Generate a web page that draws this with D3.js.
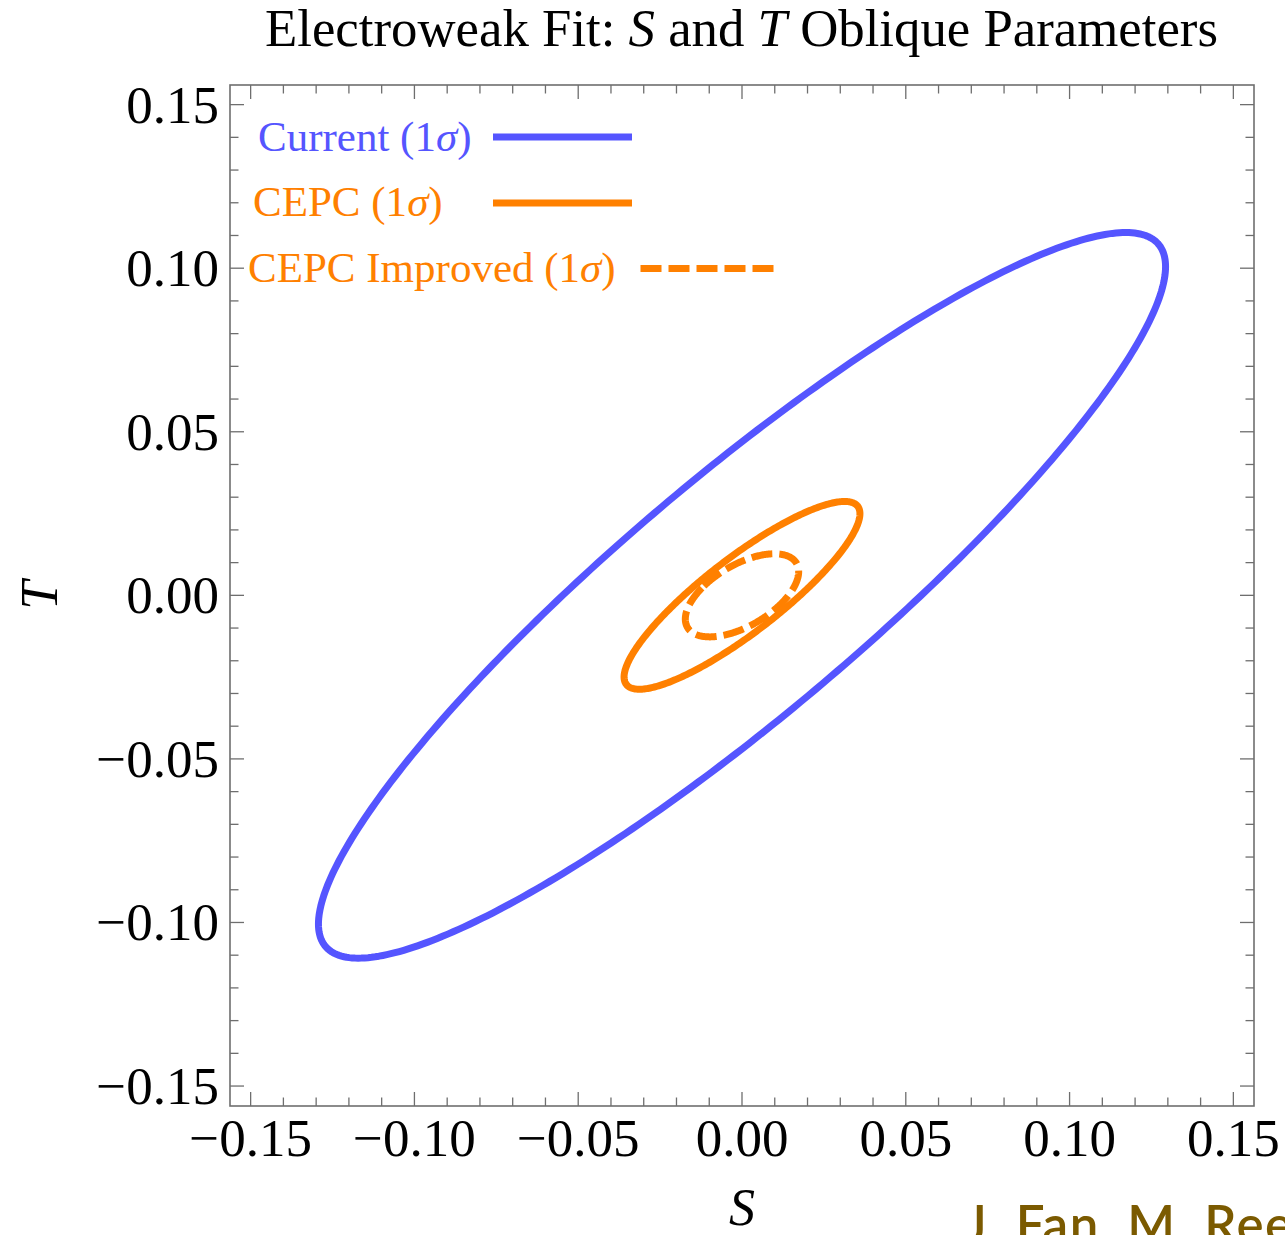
<!DOCTYPE html>
<html>
<head>
<meta charset="utf-8">
<script src="https://cdn.jsdelivr.net/npm/d3@7"></script>
<style>
  html, body { margin: 0; padding: 0; background: #ffffff; overflow: hidden; }
  svg { display: block; }
  .serif { font-family: "Liberation Serif", "Times New Roman", serif; }
  .credit { font-family: Lato, "Open Sans", sans-serif; }
</style>
</head>
<body>
<script>
// 1σ contours in the (S, T) plane: fit centre, half-widths and S–T correlation
const contourNames = ["Current (1σ)", "CEPC (1σ)", "CEPC Improved (1σ)"];
const centerS = [0.0, 0.0, 0.0];
const centerT = [0.0, 0.0, 0.0];
const sigmaS  = [0.1293, 0.0360, 0.0173];
const sigmaT  = [0.1109, 0.0287, 0.0127];
const corrST  = [0.906, 0.870, 0.570];
const contourColors = ["#5555ff", "#ff8000", "#ff8000"];
const contourDash   = [null, null, "21,7"];

// axis ticks
const majorTicks = [-0.15, -0.10, -0.05, 0.00, 0.05, 0.10, 0.15];
const minorTicks = d3.range(-15, 16).map(i => i / 100);

const W = 1285, H = 1235;
const frame = { left: 230, right: 1254, top: 85, bottom: 1106 };

const svg = d3.select("body").append("svg")
  .attr("width", W).attr("height", H);

const x = d3.scaleLinear().domain([-0.1563, 0.1563]).range([frame.left, frame.right]);
const y = d3.scaleLinear().domain([-0.1561, 0.1560]).range([frame.bottom, frame.top]);

const fmt = d3.format(".2f");
const tickColor = "#6e6e6e";
const majorLen = 14, minorLen = 8.5;

// ticks on all four sides, pointing inward
const isMajor = v => majorTicks.some(m => Math.abs(m - v) < 1e-9);
const tickG = svg.append("g").attr("stroke", tickColor).attr("stroke-width", 1.3);
minorTicks.forEach(v => {
  const len = isMajor(v) ? majorLen : minorLen;
  const px = x(v), py = y(v);
  tickG.append("line").attr("x1", px).attr("x2", px).attr("y1", frame.bottom).attr("y2", frame.bottom - len);
  tickG.append("line").attr("x1", px).attr("x2", px).attr("y1", frame.top).attr("y2", frame.top + len);
  tickG.append("line").attr("y1", py).attr("y2", py).attr("x1", frame.left).attr("x2", frame.left + len);
  tickG.append("line").attr("y1", py).attr("y2", py).attr("x1", frame.right).attr("x2", frame.right - len);
});

// frame
svg.append("rect")
  .attr("x", frame.left).attr("y", frame.top)
  .attr("width", frame.right - frame.left).attr("height", frame.bottom - frame.top)
  .attr("fill", "none").attr("stroke", tickColor).attr("stroke-width", 1.6);

// tick labels
const labelSize = 53;
svg.append("g").attr("class", "serif").selectAll("text").data(majorTicks).join("text")
  .attr("x", d => x(d)).attr("y", 1156)
  .attr("text-anchor", "middle").attr("font-size", labelSize).attr("fill", "#000")
  .text(d => fmt(d));
svg.append("g").attr("class", "serif").selectAll("text").data(majorTicks).join("text")
  .attr("x", 219).attr("y", d => y(d)).attr("dy", "0.34em")
  .attr("text-anchor", "end").attr("font-size", labelSize).attr("fill", "#000")
  .text(d => fmt(d));

// axis titles
svg.append("text").attr("class", "serif").attr("x", x(0)).attr("y", 1225)
  .attr("text-anchor", "middle").attr("font-size", 52).attr("font-style", "italic")
  .text("S");
svg.append("text").attr("class", "serif").attr("transform", `translate(57, ${y(0)}) rotate(-90)`)
  .attr("text-anchor", "middle").attr("font-size", 52).attr("font-style", "italic")
  .text("T");

// title
const title = svg.append("text").attr("class", "serif").attr("x", 265).attr("y", 46)
  .attr("font-size", 52).attr("fill", "#000")
  .attr("textLength", 953).attr("lengthAdjust", "spacingAndGlyphs");
title.append("tspan").text("Electroweak Fit: ");
title.append("tspan").attr("font-style", "italic").text("S");
title.append("tspan").text(" and ");
title.append("tspan").attr("font-style", "italic").text("T");
title.append("tspan").text(" Oblique Parameters");

// contour outlines
svg.append("clipPath").attr("id", "plot-clip").append("rect")
  .attr("x", frame.left).attr("y", frame.top)
  .attr("width", frame.right - frame.left).attr("height", frame.bottom - frame.top);

const line = d3.line().x(d => x(d[0])).y(d => y(d[1])).curve(d3.curveLinearClosed);
const nPts = 360;
const contourG = svg.append("g").attr("clip-path", "url(#plot-clip)");
contourNames.forEach((name, i) => {
  const r = corrST[i], q = Math.sqrt(1 - r * r);
  const pts = d3.range(nPts).map(k => {
    const t = 2 * Math.PI * k / nPts + Math.PI * 0.75;
    return [centerS[i] + sigmaS[i] * Math.cos(t),
            centerT[i] + sigmaT[i] * (r * Math.cos(t) + q * Math.sin(t))];
  });
  contourG.append("path").datum(pts)
    .attr("d", line)
    .attr("fill", "none")
    .attr("stroke", contourColors[i])
    .attr("stroke-width", 7)
    .attr("stroke-linejoin", "round")
    .attr("stroke-dasharray", contourDash[i]);
});

// legend
const legendRows = [
  { textX: 258, baseline: 151, lineX1: 493, lineX2: 632, lineY: 137 },
  { textX: 253, baseline: 216, lineX1: 493, lineX2: 632, lineY: 203 },
  { textX: 248, baseline: 282, lineX1: 640.5, lineX2: 774, lineY: 268.5 }
];
contourNames.forEach((name, i) => {
  const row = legendRows[i];
  const m = name.match(/^(.*\(1)(σ)(\))$/);
  const t = svg.append("text").attr("class", "serif").attr("x", row.textX).attr("y", row.baseline)
    .attr("font-size", 43).attr("fill", contourColors[i]);
  t.append("tspan").text(m[1]);
  t.append("tspan").attr("font-style", "italic").text(m[2]);
  t.append("tspan").text(m[3]);
  svg.append("line")
    .attr("x1", row.lineX1).attr("x2", row.lineX2)
    .attr("y1", row.lineY).attr("y2", row.lineY)
    .attr("stroke", contourColors[i]).attr("stroke-width", 7)
    .attr("stroke-dasharray", contourDash[i]);
});

// author credit along the lower edge
svg.append("text").attr("class", "credit").attr("x", 965).attr("y", 1243)
  .attr("font-size", 51).attr("font-weight", 600).attr("letter-spacing", 1.5).attr("fill", "#7b5a00")
  .text("J. Fan, M. Reece, L.-T. Wang");
</script>
</body>
</html>
